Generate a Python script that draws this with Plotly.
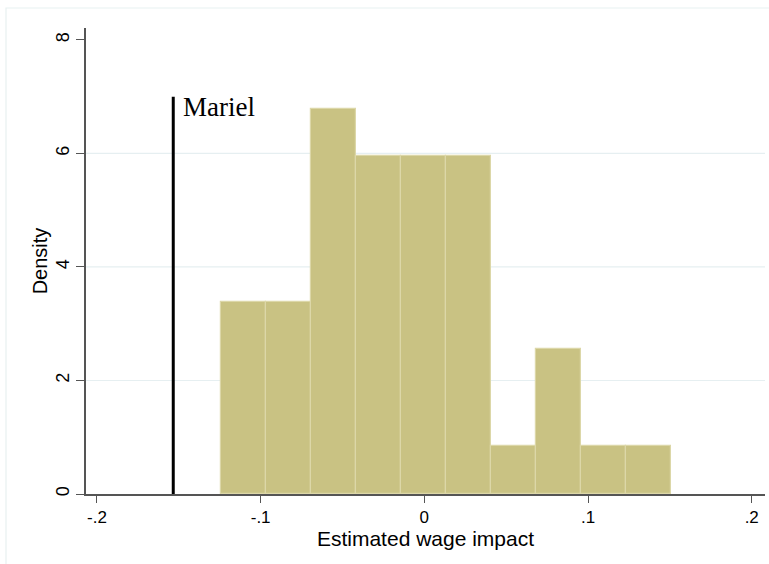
import plotly.graph_objects as go

# Histogram bins
bin_left_edges = [-0.1241, -0.0966, -0.0691, -0.0416, -0.0141, 0.0134, 0.0409, 0.0684, 0.0959, 0.1234]
bin_width = 0.0275
densities = [3.39, 3.39, 6.79, 5.95, 5.95, 5.95, 0.85, 2.55, 0.85, 0.85]

mariel_x = -0.1534
mariel_top = 7.0

x_ticks = [-0.2, -0.1, 0, 0.1, 0.2]
x_tick_labels = ["-.2", "-.1", "0", ".1", ".2"]
y_ticks = [0, 2, 4, 6, 8]
y_tick_labels = ["0", "2", "4", "6", "8"]
grid_levels = [2, 4, 6]

centers = [e + bin_width / 2 for e in bin_left_edges]

fig = go.Figure()
fig.add_trace(go.Bar(
    x=centers, y=densities, width=[bin_width] * len(centers),
    marker=dict(color="#c9c283", line=dict(color="#dcd7a8", width=1.2)),
    showlegend=False, hoverinfo="skip",
))
fig.add_trace(go.Scatter(
    x=[mariel_x, mariel_x], y=[0, mariel_top], mode="lines",
    line=dict(color="black", width=3), showlegend=False, hoverinfo="skip",
))

shapes = []
for g in grid_levels:
    shapes.append(dict(type="line", xref="paper", x0=0, x1=1, yref="y", y0=g, y1=g,
                       line=dict(color="#e6eff1", width=1.2), layer="below"))
# outer faint frame
shapes.append(dict(type="rect", xref="paper", yref="paper",
                   x0=-80/679, x1=1.2, y0=-0.3, y1=(494-8)/466,
                   line=dict(color="#e8f1f1", width=1.2), layer="below"))

fig.add_annotation(x=mariel_x, y=mariel_top, text="Mariel", showarrow=False,
                   xanchor="left", yanchor="top", xshift=8, yshift=7,
                   font=dict(family="Liberation Serif", size=27, color="black"))

fig.update_layout(
    width=769, height=564,
    margin=dict(l=86, r=4, t=28, b=70),
    paper_bgcolor="white", plot_bgcolor="white",
    shapes=shapes,
    font=dict(family="Liberation Sans, Arial", color="black"),
    bargap=0,
)
fig.update_xaxes(
    range=[-0.2067, 0.2081], tickvals=x_ticks, ticktext=x_tick_labels, automargin=False,
    showgrid=False, zeroline=False, showline=True, linecolor="#555555", linewidth=1.5,
    ticks="outside", ticklen=7, tickcolor="#555555", tickwidth=1.2,
    tickfont=dict(size=17),
    title=dict(text="Estimated wage impact", font=dict(size=21), standoff=4),
)
fig.update_yaxes(
    range=[0, 8.21], tickvals=y_ticks, ticktext=y_tick_labels, tickangle=-90, automargin=False,
    showgrid=False, zeroline=False, showline=True, linecolor="#555555", linewidth=1.5,
    ticks="outside", ticklen=8, tickcolor="#555555", tickwidth=1.2,
    tickfont=dict(size=18),
    title=dict(text="Density", font=dict(size=20), standoff=0),
)

fig.write_html("out.html", config={"displayModeBar": False},
               post_script="document.body.style.margin='0px';document.body.style.overflow='hidden';")
